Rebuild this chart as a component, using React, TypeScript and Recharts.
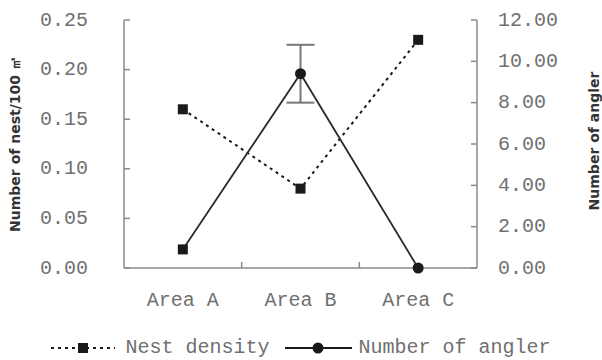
import React from 'react';
import { LineChart, Line, XAxis, YAxis, ErrorBar, Legend } from 'recharts';

const categories = ['Area A', 'Area B', 'Area C'];
const nestDensity = [0.16, 0.08, 0.23];
const anglers = [0.9, 9.4, 0];
const anglerError = [null, 1.4, null];
const anglerMarkers = ['square', 'circle', 'circle'];

const leftTicks = [0, 0.05, 0.1, 0.15, 0.2, 0.25];
const rightTicks = [0, 2, 4, 6, 8, 10, 12];

const nestName = 'Nest density';
const anglerName = 'Number of angler';
const leftTitle = 'Number of nest/100 ㎡';
const rightTitle = 'Number of angler';

// categories sit in the middle of equal bands, ticks between the bands
const data = categories.map((name, i) => ({
  x: i + 0.5,
  name,
  nest: nestDensity[i],
  angler: anglers[i],
  anglerErr: anglerError[i],
}));
const xTicks = [0.5, 1, 1.5, 2, 2.5];

const W = 602;
const H = 360;
const axisColor = '#8a8a8a';
const textColor = '#707070';
const markColor = '#1a1a1a';
const tickFont = '"Liberation Mono", "DejaVu Sans Mono", monospace';
const titleFont = '"DejaVu Sans", sans-serif';
const LEFT_MARGIN = 36;
const RIGHT_MARGIN = 21;
const X_MARGIN = 20;

const LeftTick = (props: any) => {
  const { x, y, payload } = props;
  const ax = x + LEFT_MARGIN;
  return (
    <g>
      <line x1={ax} x2={ax + 6} y1={y} y2={y} stroke={axisColor} strokeWidth={1.5} />
      <text x={x} y={y} textAnchor="end" dominantBaseline="central" fill={textColor} fontSize={20} fontFamily={tickFont}>
        {Number(payload.value).toFixed(2)}
      </text>
    </g>
  );
};

const RightTick = (props: any) => {
  const { x, y, payload } = props;
  const ax = x - RIGHT_MARGIN;
  return (
    <g>
      <line x1={ax} x2={ax - 6} y1={y} y2={y} stroke={axisColor} strokeWidth={1.5} />
      <text x={x} y={y} textAnchor="start" dominantBaseline="central" fill={textColor} fontSize={20} fontFamily={tickFont}>
        {Number(payload.value).toFixed(2)}
      </text>
    </g>
  );
};

const BottomTick = (props: any) => {
  const { x, y, payload } = props;
  const ay = y - X_MARGIN;
  const v = payload.value;
  if (Number.isInteger(v)) {
    return <line x1={x} x2={x} y1={ay} y2={ay - 6} stroke={axisColor} strokeWidth={1.5} />;
  }
  return (
    <text x={x} y={ay + 32} textAnchor="middle" dominantBaseline="central" fill={textColor} fontSize={20} fontFamily={tickFont}>
      {categories[Math.floor(v)]}
    </text>
  );
};

const AnglerDot = (props: any) => {
  const { cx, cy, index } = props;
  if (cx == null || cy == null) return null;
  if (anglerMarkers[index] === 'square') {
    return <rect key={`a${index}`} x={cx - 5} y={cy - 5} width={10} height={10} fill={markColor} />;
  }
  return <circle key={`a${index}`} cx={cx} cy={cy} r={5.5} fill={markColor} />;
};

const NestDot = (props: any) => {
  const { cx, cy, index } = props;
  if (cx == null || cy == null) return null;
  return <rect key={`n${index}`} x={cx - 5} y={cy - 5} width={10} height={10} fill={markColor} />;
};

const LeftTitle = (props: any) => {
  const { viewBox } = props;
  const cx = viewBox.x + 15;
  const cy = viewBox.y + viewBox.height / 2;
  return (
    <text x={cx} y={cy} transform={`rotate(-90 ${cx} ${cy})`} textAnchor="middle" dominantBaseline="central"
      fill="#333" fontSize={14} fontWeight="bold" fontFamily={titleFont}>
      {leftTitle}
    </text>
  );
};

const RightTitle = (props: any) => {
  const { viewBox } = props;
  const cx = viewBox.x + 117;
  const cy = viewBox.y + viewBox.height / 2 - 3;
  return (
    <text x={cx} y={cy} transform={`rotate(-90 ${cx} ${cy})`} textAnchor="middle" dominantBaseline="central"
      fill="#333" fontSize={14} fontWeight="bold" fontFamily={titleFont}>
      {rightTitle}
    </text>
  );
};

const renderLegend = () => (
  <div
    style={{
      display: 'flex',
      justifyContent: 'center',
      alignItems: 'center',
      height: 42,
      paddingTop: 18,
      boxSizing: 'border-box',
      fontFamily: tickFont,
      fontSize: 20,
      color: textColor,
      lineHeight: '24px',
    }}
  >
    <svg width={64} height={14}>
      <line x1={0} x2={64} y1={7} y2={7} stroke={markColor} strokeWidth={2} strokeDasharray="3 4" />
      <rect x={27} y={2} width={10} height={10} fill={markColor} />
    </svg>
    <span style={{ marginLeft: 10 }}>{nestName}</span>
    <svg width={67} height={14} style={{ marginLeft: 15 }}>
      <line x1={0} x2={67} y1={7} y2={7} stroke={markColor} strokeWidth={2} />
      <circle cx={33} cy={7} r={5.5} fill={markColor} />
    </svg>
    <span style={{ marginLeft: 7 }}>{anglerName}</span>
  </div>
);

export default function App() {
  return (
    <div style={{ position: 'absolute', left: 0, top: 0, width: W, height: H, background: '#fff' }}>
      <LineChart width={W} height={H} data={data} margin={{ top: 20, right: 0, left: 0, bottom: 0 }}>
        <XAxis
          dataKey="x"
          type="number"
          domain={[0, 3]}
          ticks={xTicks}
          interval={0}
          height={50}
          tickSize={0}
          tickMargin={X_MARGIN}
          tick={<BottomTick />}
          axisLine={{ stroke: axisColor, strokeWidth: 1.5 }}
          tickLine={false}
        />
        <YAxis
          yAxisId="left"
          orientation="left"
          width={124}
          domain={[0, 0.25]}
          ticks={leftTicks}
          interval={0}
          tickSize={0}
          tickMargin={LEFT_MARGIN}
          tick={<LeftTick />}
          tickLine={false}
          axisLine={{ stroke: axisColor, strokeWidth: 1.5 }}
          label={<LeftTitle />}
        />
        <YAxis
          yAxisId="right"
          orientation="right"
          width={125}
          domain={[0, 12]}
          ticks={rightTicks}
          interval={0}
          tickSize={0}
          tickMargin={RIGHT_MARGIN}
          tick={<RightTick />}
          tickLine={false}
          axisLine={{ stroke: axisColor, strokeWidth: 1.5 }}
          label={<RightTitle />}
        />
        <Legend
          verticalAlign="bottom"
          align="center"
          width={W}
          wrapperStyle={{ left: 0, bottom: 0 }}
          content={renderLegend}
        />
        <Line
          yAxisId="left"
          name={nestName}
          dataKey="nest"
          type="linear"
          stroke={markColor}
          strokeWidth={2}
          strokeDasharray="3 4"
          dot={<NestDot />}
          activeDot={false}
          isAnimationActive={false}
        />
        <Line
          yAxisId="right"
          name={anglerName}
          dataKey="angler"
          type="linear"
          stroke="#2a2a2a"
          strokeWidth={1.8}
          dot={<AnglerDot />}
          activeDot={false}
          isAnimationActive={false}
        >
          <ErrorBar dataKey="anglerErr" direction="y" width={14} stroke="#777" strokeWidth={2} />
        </Line>
      </LineChart>
    </div>
  );
}
